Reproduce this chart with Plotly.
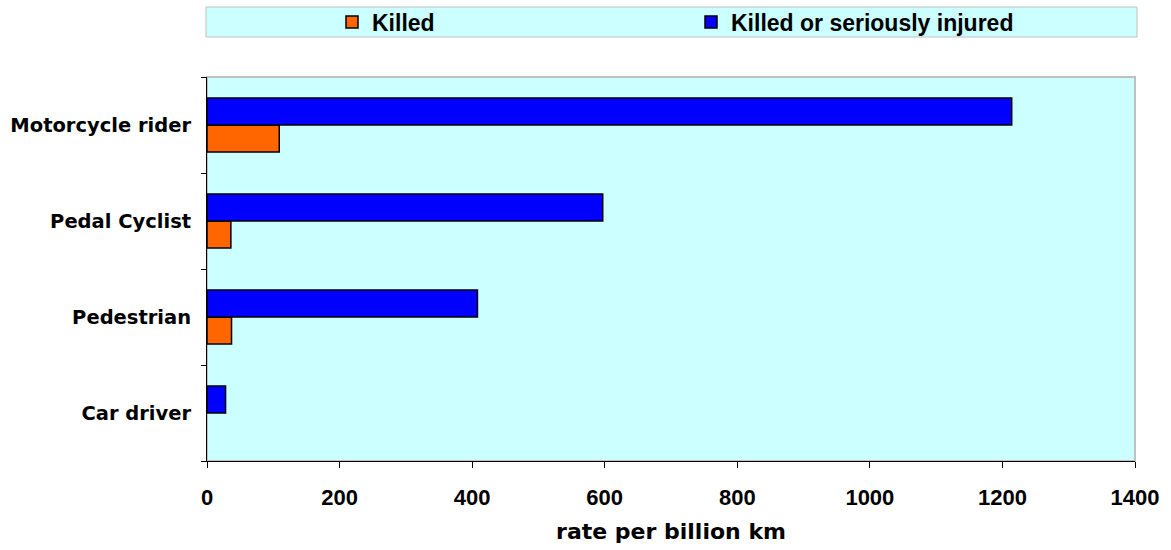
import plotly.graph_objects as go

categories = ["Car driver", "Pedestrian", "Pedal Cyclist", "Motorcycle rider"]
killed = [None, 37, 36, 109]
killed_or_seriously_injured = [28, 408, 597, 1214]
x_ticks = [0, 200, 400, 600, 800, 1000, 1200, 1400]

W, H = 1171, 550
ML, MR, MT, MB = 207, 36, 77, 89
PW = W - ML - MR
PH = H - MT - MB

fig = go.Figure()
fig.add_trace(go.Bar(
    y=categories, x=killed, orientation="h", name="Killed",
    marker=dict(color="#FF6600", line=dict(color="#000000", width=1.5)),
))
fig.add_trace(go.Bar(
    y=categories, x=killed_or_seriously_injured, orientation="h",
    name="Killed or seriously injured",
    marker=dict(color="#0000FF", line=dict(color="#000000", width=1.5)),
))

def px_x(p):
    return (p - ML) / PW

def px_y(p):
    return 1 + (MT - p) / PH

fig.update_layout(
    width=W, height=H,
    margin=dict(l=ML, r=MR, t=MT, b=MB, pad=0, autoexpand=False),
    paper_bgcolor="white",
    plot_bgcolor="#CCFFFF",
    barmode="group",
    bargap=0.44,
    bargroupgap=0,
    font=dict(family="Liberation Sans, Arial", size=20, color="#000000", weight="bold"),
    showlegend=True,
    legend=dict(
        orientation="h",
        xref="container", yref="container",
        x=332 / W, xanchor="left",
        y=1 - 22 / H, yanchor="middle",
        bgcolor="rgba(0,0,0,0)",
        borderwidth=0,
        entrywidth=314, entrywidthmode="pixels",
        traceorder="normal",
        font=dict(family="Liberation Sans, Arial", size=23, weight="bold"),
    ),
    shapes=[
        dict(type="rect", xref="paper", yref="paper",
             x0=px_x(206), x1=px_x(1137), y0=px_y(37), y1=px_y(7),
             fillcolor="#CCFFFF", line=dict(color="#C0C0C0", width=1), layer="below"),
        dict(type="rect", xref="paper", yref="paper",
             x0=0, x1=1, y0=0, y1=1,
             fillcolor="rgba(0,0,0,0)", line=dict(color="#C0C0C0", width=2), layer="below"),
    ],
    xaxis=dict(
        range=[0, 1400], tickvals=x_ticks,
        automargin=False,
        showgrid=False, zeroline=False,
        showline=True, linecolor="#000000", linewidth=1,
        ticks="outside", ticklen=6, tickcolor="#000000",
        tickfont=dict(family="Liberation Sans, Arial", size=22, weight="bold"),
        ticklabelstandoff=11,
        title=dict(text="rate per billion km", standoff=14,
                   font=dict(family="DejaVu Sans", size=22, weight="bold")),
    ),
    yaxis=dict(
        categoryorder="array", categoryarray=categories,
        automargin=False,
        showgrid=False, zeroline=False,
        showline=True, linecolor="#000000", linewidth=1,
        ticks="outside", ticklen=5, tickcolor="#000000",
        tickson="boundaries",
        ticklabelstandoff=11,
        tickfont=dict(family="DejaVu Sans", size=19.5, weight="bold"),
    ),
)

fig.write_html("out.html")
